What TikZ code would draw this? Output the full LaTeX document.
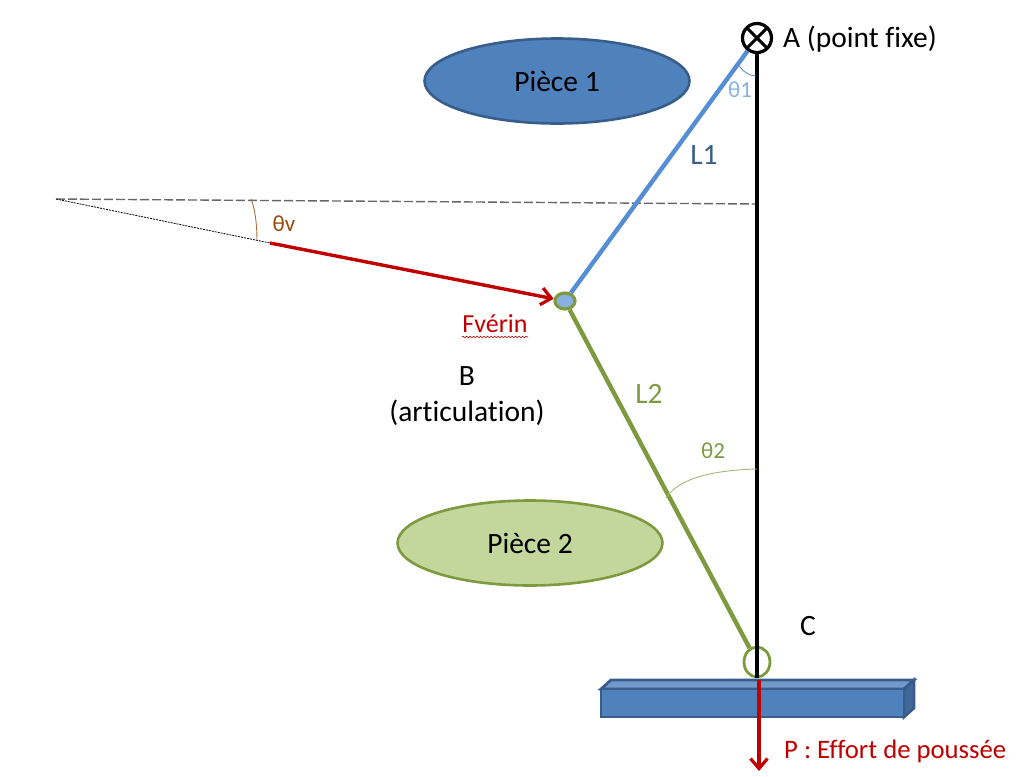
\documentclass[tikz,border=0pt]{standalone}
\usepackage{fontspec}
\setmainfont[Ligatures=NoCommon]{Carlito}
\usetikzlibrary{arrows.meta,decorations.pathmorphing,shapes.geometric}
\definecolor{bluefill}{HTML}{4F81BD}
\definecolor{blueedge}{HTML}{385D8A}
\definecolor{bluetop}{HTML}{7299CA}
\definecolor{blueside}{HTML}{41689A}
\definecolor{greenfill}{HTML}{C3D69B}
\definecolor{greenedge}{HTML}{7E9A3F}
\definecolor{lblue}{HTML}{558ED5}
\definecolor{redc}{HTML}{C00000}
\definecolor{brownc}{HTML}{984807}
\tikzset{
  piece/.style={ellipse,minimum width=265pt,minimum height=85pt,line width=2.6pt,inner sep=0pt,font=\fontsize{29.5}{36}\selectfont},
  lab/.style={inner sep=0pt,align=center,font=\fontsize{29.5}{36}\selectfont},
  small/.style={inner sep=0pt,font=\fontsize{23}{27}\selectfont},
  redarrow/.style={draw=redc,line width=3.4pt,-{Straight Barb[length=10pt,width=17pt,line width=3.2pt]}},
  arcline/.style={line width=0.9pt},
  boxface/.style={draw=blueedge,line width=2.8pt,line join=miter}
}
\begin{document}
\begin{tikzpicture}[x=1pt,y=-1pt]
\useasboundingbox (0,0) rectangle (1021,777);
% ellipses
\node[piece,draw=blueedge,fill=bluefill] (p1) at (557,81) {Pièce 1};
\node[piece,draw=greenedge,fill=greenfill] (p2) at (530,543) {Pièce 2};
% box
\draw[boxface,fill=bluetop] (601,689) -- (611,680) -- (914,680) -- (904,689) -- cycle;
\draw[boxface,fill=blueside] (904,689) -- (914,680) -- (914,708) -- (904,717) -- cycle;
\draw[boxface,fill=bluefill] (601,689) rectangle (904,717);
% joints as nodes
\node[circle,minimum size=29pt,inner sep=0pt,line width=3.2pt,draw=black] (A) at (757,38) {};
\node[ellipse,minimum width=20pt,minimum height=16pt,inner sep=0pt,line width=3.2pt,draw=greenedge,fill=lblue!70] (B) at (565,301) {};
\node[ellipse,minimum width=26pt,minimum height=30pt,inner sep=0pt,line width=2.8pt,draw=greenedge] (C) at (757,662) {};
\draw[line width=3pt] (A.center) ++(-10,-10) -- ++(20,20);
\draw[line width=3pt] (A.center) ++(10,-10) -- ++(-20,20);
% reference lines
\coordinate (O) at (56,199);
\coordinate (H) at (757,204);
\coordinate (V) at (270,243);
\coordinate (Pend) at (759,771);
\coordinate (Pstart) at (759,680);
\draw[black!60,line width=1.4pt,dash pattern=on 9pt off 3pt] (O) -- (H);
\draw[black,line width=0.8pt,dash pattern=on 2pt off 1pt] (O) -- (V);
% main bars
\draw[black,line width=3.4pt] (A) -- (C.south);
\draw[lblue,line width=4.4pt] (A) -- (B);
\draw[greenedge,line width=4.4pt] (B) -- (C);
% forces
\draw[redarrow] (V) -- (B);
\draw[redarrow] (Pstart) -- (Pend);
% angle arcs
\coordinate (a1s) at (737,63);
\coordinate (a1e) at (756,76);
\draw[lblue,arcline] (a1s) .. controls (742,71) and (749,76) .. (a1e);
\coordinate (a2s) at (666,498);
\coordinate (a2e) at (757,469);
\draw[greenedge!70,arcline] (a2s) .. controls (680,476) and (720,470) .. (a2e);
\coordinate (avs) at (251,199);
\coordinate (ave) at (257,240);
\draw[brownc!80,arcline] (avs) .. controls (255,208) and (257,225) .. (ave);
% labels
\node[lab,anchor=west] (Atext) at (783,39) {A (point fixe)};
\node[small,text=lblue!70] (t1) at (740,90) {θ1};
\node[lab,text=blueedge] (L1) at (704,155) {L1};
\node[small,text=brownc] (tv) at (284,224) {θv};
\node[small,text=redc,font=\fontsize{26}{30}\selectfont] (F) at (495,324) {Fvérin};
\draw[redc,line width=0.6pt,decorate,decoration={snake,amplitude=0.8pt,segment length=3.5pt}] (462,337) -- (528,337);
\node[lab] (Btext) at (467,396.5) {B\\(articulation)};
\node[lab,text=greenedge] (L2) at (649,394) {L2};
\node[small,text=greenedge] (t2) at (713,451) {θ2};
\node[lab] (Ctext) at (808,626) {C};
\node[lab,anchor=west,text=redc,font=\fontsize{26.7}{32}\selectfont] (Ptext) at (784,751) {P : Effort de poussée};
\end{tikzpicture}
\end{document}
